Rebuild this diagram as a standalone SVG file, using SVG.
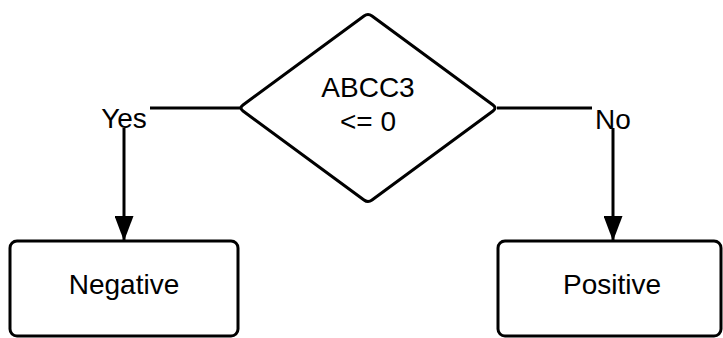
<svg xmlns="http://www.w3.org/2000/svg" width="723" height="338" viewBox="0 0 723 338">
<style>
.shape{fill:#fff;stroke:#000;stroke-width:3;stroke-linejoin:round}
.conn{fill:none;stroke:#000;stroke-width:3}
text{font-family:"Liberation Sans",Arial,sans-serif;font-size:28px;fill:#000;text-anchor:middle}
</style>
<defs>
<marker id="arr" markerWidth="25" markerHeight="19" refX="24" refY="9.5" orient="auto" markerUnits="userSpaceOnUse" viewBox="0 0 25 19">
<path d="M0,0 L25,9.5 L0,19 Z" fill="#000"/>
</marker>
</defs>
<g id="connectors">
<path class="conn" d="M240,108 H150" />
<path class="conn" d="M124,128 V240" marker-end="url(#arr)"/>
<path class="conn" d="M497,108 H592" />
<path class="conn" d="M613,128 V240" marker-end="url(#arr)"/>
<text x="124" y="128">Yes</text>
<text x="613" y="129">No</text>
</g>
<g id="decision">
<path class="shape" d="M364,16 Q368,13 372,16 L493,105 Q497,108 493,111 L372,200 Q368,203 364,200 L243,111 Q239,108 243,105 Z"/>
<text x="368" y="97">ABCC3</text>
<text x="368" y="131">&lt;= 0</text>
</g>
<g id="negative">
<rect class="shape" x="10" y="241" width="228" height="95" rx="7"/>
<text x="124" y="294">Negative</text>
</g>
<g id="positive">
<rect class="shape" x="498" y="241" width="223" height="95" rx="7"/>
<text x="612" y="294">Positive</text>
</g>
</svg>
